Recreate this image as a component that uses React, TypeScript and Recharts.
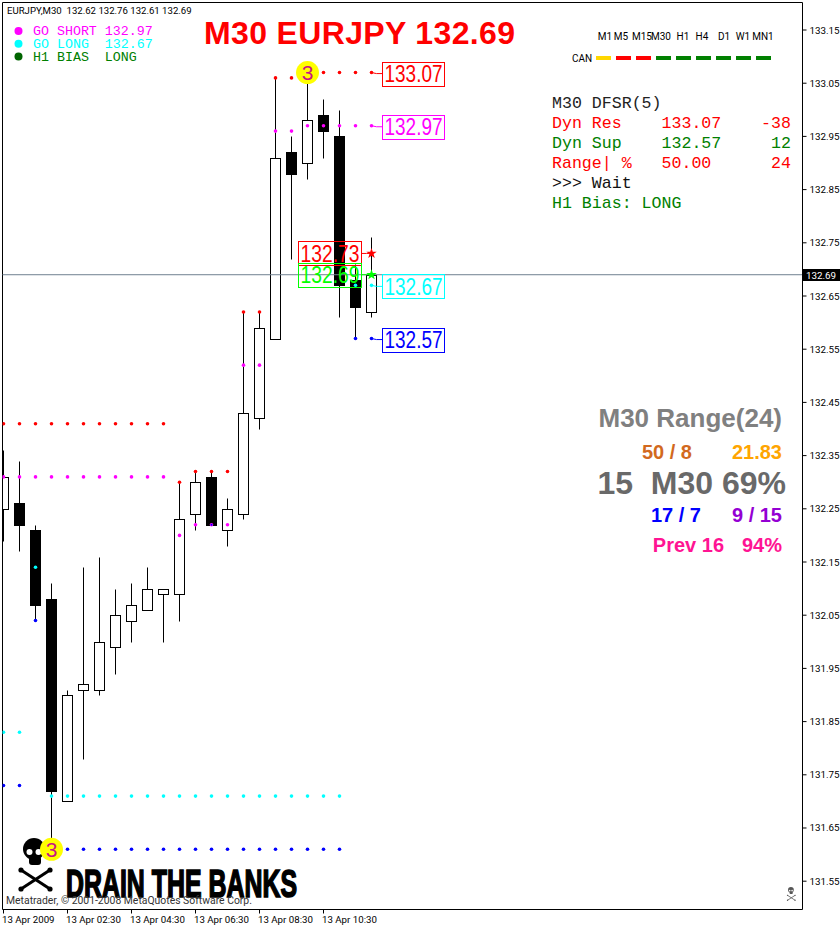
import {
  ComposedChart,
  Bar,
  Line,
  XAxis,
  YAxis,
  ReferenceLine,
  ReferenceDot,
} from 'recharts';

const OPENS = [132.25, 132.26, 132.21, 132.08, 131.70, 131.91, 131.91, 131.99, 132.04, 132.06, 132.09, 132.09, 132.24, 132.31, 132.21, 132.24, 132.42, 132.57, 132.92, 132.90, 132.99, 132.95, 132.68, 132.62];
const HIGHS = [132.36, 132.34, 132.22, 132.11, 131.91, 132.14, 132.16, 132.10, 132.11, 132.14, 132.10, 132.30, 132.32, 132.32, 132.27, 132.62, 132.62, 133.06, 132.95, 133.07, 133.02, 133.00, 132.71, 132.76];
const LOWS = [132.19, 132.17, 132.04, 131.61, 131.70, 131.78, 131.90, 131.94, 132.00, 132.06, 132.00, 132.04, 132.21, 132.22, 132.18, 132.23, 132.40, 132.57, 132.72, 132.87, 132.91, 132.61, 132.57, 132.61];
const CLOSES = [132.31, 132.22, 132.07, 131.72, 131.90, 131.92, 132.00, 132.05, 132.07, 132.10, 132.10, 132.23, 132.30, 132.22, 132.25, 132.43, 132.59, 132.91, 132.88, 132.98, 132.96, 132.67, 132.63, 132.69];

// DFSR dots
const DYN_RES = [132.41, 132.41, 132.41, 132.41, 132.41, 132.41, 132.41, 132.41, 132.41, 132.41, 132.41, 132.30, 132.32, 132.32, 132.32, 132.62, 132.62, 133.06, 133.06, 133.07, 133.07, 133.07, 133.07, 133.07];
const GO_SHORT = [132.31, 132.31, 132.31, 132.31, 132.31, 132.31, 132.31, 132.31, 132.31, 132.31, 132.31, 132.20, 132.22, 132.22, 132.22, 132.52, 132.52, 132.96, 132.96, 132.97, 132.97, 132.97, 132.97, 132.97];
const GO_LONG = [131.83, 131.83, 132.14, 131.71, 131.71, 131.71, 131.71, 131.71, 131.71, 131.71, 131.71, 131.71, 131.71, 131.71, 131.71, 131.71, 131.71, 131.71, 131.71, 131.71, 131.71, 131.71, 132.67, 132.67];
const DYN_SUP = [131.73, 131.73, 132.04, 131.61, 131.61, 131.61, 131.61, 131.61, 131.61, 131.61, 131.61, 131.61, 131.61, 131.61, 131.61, 131.61, 131.61, 131.61, 131.61, 131.61, 131.61, 131.61, 132.57, 132.57];

const Y_TICKS = [133.15, 133.05, 132.95, 132.85, 132.75, 132.65, 132.55, 132.45, 132.35, 132.25, 132.15, 132.05, 131.95, 131.85, 131.75, 131.65, 131.55];
const X_TICKS = [0, 4, 8, 12, 16, 20];
const X_LABELS = ['13 Apr 2009', '13 Apr 02:30', '13 Apr 04:30', '13 Apr 06:30', '13 Apr 08:30', '13 Apr 10:30'];

const LAST_PRICE = 132.69;
const LAST_BAR = 23;
const Y_TOP = 133.2017;
const Y_BOTTOM = 131.4968;
const X_MIN = -0.0625;
const X_MAX = 49.9375;

const TF_LABELS = ['M1', 'M5', 'M15', 'M30', 'H1', 'H4', 'D1', 'W1', 'MN1'];
const TF_COLORS = ['#ffd700', '#ff0000', '#ff0000', '#008000', '#008000', '#008000', '#008000', '#008000', '#008000'];

const DFSR_ROWS = [
  { text: 'M30 DFSR(5)', color: '#222222' },
  { text: 'Dyn Res    133.07    -38', color: '#ff0000' },
  { text: 'Dyn Sup    132.57     12', color: '#008000' },
  { text: 'Range| %   50.00      24', color: '#ff0000' },
  { text: '>>> Wait', color: '#111111' },
  { text: 'H1 Bias: LONG', color: '#008000' },
];

const LEGEND_ROWS = [
  { text: 'GO SHORT 132.97', color: '#ff00ff', dot: '#ff00ff' },
  { text: 'GO LONG  132.67', color: '#00ffff', dot: '#00ffff' },
  { text: 'H1 BIAS  LONG', color: '#008000', dot: '#006400' },
];

const chartData = OPENS.map((open, i) => ({
  bar: i,
  open,
  high: HIGHS[i],
  low: LOWS[i],
  close: CLOSES[i],
  dynRes: DYN_RES[i],
  goShort: GO_SHORT[i],
  goLong: GO_LONG[i],
  dynSup: DYN_SUP[i],
}));

const SANS = '"Liberation Sans", Arial, sans-serif';
const MONO = '"Liberation Mono", monospace';
const TICK_FONT = 'Roboto, sans-serif';

function Candle(props: any) {
  const { x, y, width, height, payload } = props;
  const { open, high, low, close } = payload;
  const cx = Math.floor(x + width / 2) + 0.5;
  const perUnit = height / (high - low || 1);
  const yOf = (p: number) => Math.round(y + (high - p) * perUnit) + 0.5;
  const bull = close >= open;
  const top = yOf(Math.max(open, close));
  const bottom = yOf(Math.min(open, close));
  return (
    <g>
      <line x1={cx} x2={cx} y1={yOf(high)} y2={yOf(low)} stroke="#000" />
      <rect
        x={cx - 5}
        y={top}
        width={10}
        height={bottom - top}
        fill={bull ? '#fff' : '#000'}
        stroke="#000"
      />
    </g>
  );
}

const dotOf = (color: string) => (props: any) => {
  const { cx, cy, index } = props;
  return <circle key={index} cx={cx} cy={cy} r={1.8} fill={color} />;
};

// box with the price in it and a short leader back to the dot
const priceTag = (label: string, color: string, boxLeft: number, boxRight: number, dy: number) => (props: any) => {
  const { cx, cy } = props;
  const mid = cy + dy;
  return (
    <g>
      <polyline
        points={`${cx},${cy} ${cx + Math.sign(boxLeft) * 5},${mid} ${cx + (boxLeft > 0 ? boxLeft : boxRight)},${mid}`}
        fill="none"
        stroke={color}
      />
      <rect x={cx + boxLeft} y={Math.round(mid) - 11.5} width={boxRight - boxLeft} height={24} fill="none" stroke={color} />
      <text
        x={(2 * cx + boxLeft + boxRight) / 2}
        y={mid + 8.5}
        textAnchor="middle"
        fontFamily={SANS}
        fontSize={24}
        textLength={boxRight - boxLeft - 4}
        lengthAdjust="spacingAndGlyphs"
        fill={color}
      >
        {label}
      </text>
    </g>
  );
};

const starPath = (cx: number, cy: number, r: number) => {
  const pts: string[] = [];
  for (let k = 0; k < 10; k++) {
    const a = -Math.PI / 2 + (k * Math.PI) / 5;
    const rad = k % 2 ? r * 0.4 : r;
    pts.push(`${cx + rad * Math.cos(a)},${cy + rad * Math.sin(a)}`);
  }
  return pts.join(' ');
};

const starMark = (color: string) => (props: any) => <polygon points={starPath(props.cx, props.cy, 5.5)} fill={color} />;

const countBadge = (props: any) => (
  <g>
    <circle cx={props.cx} cy={props.cy} r={11.5} fill="#ffff00" />
    <text
      x={props.cx}
      y={props.cy + 7.5}
      textAnchor="middle"
      fontFamily={SANS}
      fontSize={21}
      fill="#c71585"
    >
      3
    </text>
  </g>
);

function YTick(props: any) {
  const { x, y, payload } = props;
  return (
    <text x={x + 1} y={y + 3.5} fontFamily={TICK_FONT} fontSize={9.8} fill="#000">
      {payload.value.toFixed(2)}
    </text>
  );
}

function XTick(props: any) {
  const { x, y, payload } = props;
  return (
    <text x={x - 1.5} y={y + 7} fontFamily={TICK_FONT} fontSize={9.7} fill="#000">
      {X_LABELS[X_TICKS.indexOf(payload.value)]}
    </text>
  );
}

function Skull({ x, y, scale, color }: { x: number; y: number; scale: number; color: string }) {
  return (
    <g transform={`translate(${x},${y}) scale(${scale})`}>
      <ellipse cx={17} cy={11} rx={11} ry={11} fill={color} />
      <rect x={12} y={18} width={12} height={9} rx={3} fill={color} />
      <circle cx={12.5} cy={14} r={3} fill="#fff" />
      <circle cx={21.5} cy={14} r={3} fill="#fff" />
      <line x1={4} y1={32} x2={33} y2={51} stroke={color} strokeWidth={3} />
      <line x1={33} y1={32} x2={4} y2={51} stroke={color} strokeWidth={3} />
      <circle cx={4} cy={32} r={2.6} fill={color} />
      <circle cx={33} cy={32} r={2.6} fill={color} />
      <circle cx={4} cy={51} r={2.6} fill={color} />
      <circle cx={33} cy={51} r={2.6} fill={color} />
    </g>
  );
}

// sits under the chart so the candles and the badge stay on top of it
function Watermark() {
  return (
    <svg width={840} height={926} style={{ position: 'absolute', left: 0, top: 0 }}>
      <Skull x={17} y={838} scale={1} color="#000" />
      <text
        x={66}
        y={897}
        fontFamily='"Liberation Sans Narrow", "Liberation Sans", sans-serif'
        fontWeight="bold"
        fontSize={38}
        textLength={231}
        lengthAdjust="spacingAndGlyphs"
        stroke="#000"
        strokeWidth={1.6}
        fill="#000"
      >
        DRAIN THE BANKS
      </text>
      <Skull x={786.5} y={887} scale={0.26} color="#555" />
    </svg>
  );
}

function Overlay() {
  return (
    <svg width={840} height={926} style={{ position: 'absolute', left: 0, top: 0, pointerEvents: 'none' }}>
      {/* chart caption */}
      <text x={7} y={14} fontFamily={TICK_FONT} fontSize={9.6} fill="#000" style={{ whiteSpace: 'pre' }}>
        EURJPY,M30  132.62 132.76 132.61 132.69
      </text>
      <text x={204} y={44} fontFamily={SANS} fontWeight="bold" fontSize={32} textLength={311} fill="#ff0000">
        M30 EURJPY 132.69
      </text>

      {LEGEND_ROWS.map((row, i) => (
        <g key={row.text}>
          <circle cx={18.5} cy={31 + i * 12.7} r={4} fill={row.dot} />
          <text x={33} y={35 + i * 13} fontFamily={MONO} fontSize={13.3} fill={row.color} style={{ whiteSpace: 'pre' }}>
            {row.text}
          </text>
        </g>
      ))}

      {/* timeframe strip */}
      {TF_LABELS.map((tf, i) => (
        <text key={tf} x={[605, 621, 642, 661, 683, 702, 724, 743, 763][i]} y={40} textAnchor="middle" fontFamily={TICK_FONT} fontSize={10} fill="#000">
          {tf}
        </text>
      ))}
      <text x={572} y={62} fontFamily={TICK_FONT} fontSize={10} fill="#000">CAN</text>
      {TF_COLORS.map((c, i) => (
        <rect key={i} x={596 + i * 20} y={56} width={15} height={4} fill={c} />
      ))}

      {DFSR_ROWS.map((row, i) => (
        <text key={row.text} x={552} y={107.5 + i * 20} fontFamily={MONO} fontSize={16.6} fill={row.color} style={{ whiteSpace: 'pre' }}>
          {row.text}
        </text>
      ))}

      {/* range block */}
      <g fontFamily={SANS} fontWeight="bold">
        <text x={782} y={427} textAnchor="end" fontSize={26} fill="#808080">M30 Range(24)</text>
        <text x={692} y={459} textAnchor="end" fontSize={20} fill="#d2691e">50 / 8</text>
        <text x={782} y={459} textAnchor="end" fontSize={20} fill="#ffa500">21.83</text>
        <text x={786} y={494} textAnchor="end" fontSize={32} fill="#696969" style={{ whiteSpace: 'pre' }}>15  M30 69%</text>
        <text x={701} y={522} textAnchor="end" fontSize={20} fill="#0000ff">17 / 7</text>
        <text x={782} y={522} textAnchor="end" fontSize={20} fill="#9400d3">9 / 15</text>
        <text x={724} y={552} textAnchor="end" fontSize={20} fill="#ff1493">Prev 16</text>
        <text x={782} y={552} textAnchor="end" fontSize={20} fill="#ff1493">94%</text>
      </g>

      <text x={6} y={904} fontFamily={TICK_FONT} fontSize={10.4} fill="#333">
        Metatrader, © 2001-2008 MetaQuotes Software Corp.
      </text>

      {/* last price flag on the axis */}
      <rect x={803} y={269} width={37} height={12} fill="#000" />
      <text x={806} y={278.5} fontFamily={TICK_FONT} fontSize={9.8} fill="#fff">132.69</text>
    </svg>
  );
}

export default function App() {
  return (
    <div style={{ position: 'absolute', left: 0, top: 0, width: 840, height: 926, background: '#fff' }}>
      <Watermark />
      <ComposedChart
        width={840}
        height={926}
        data={chartData}
        margin={{ top: 2.5, right: 0, bottom: 0, left: 2.5 }}
        style={{ position: 'absolute', left: 0, top: 0 }}
      >
        <XAxis
          dataKey="bar"
          type="number"
          domain={[X_MIN, X_MAX]}
          ticks={X_TICKS}
          tick={<XTick />}
          tickSize={4}
          stroke="#000"
          height={16.5}
          interval={0}
          allowDataOverflow
        />
        <YAxis
          orientation="right"
          type="number"
          domain={[Y_BOTTOM, Y_TOP]}
          ticks={Y_TICKS}
          tick={<YTick />}
          tickSize={4}
          stroke="#000"
          width={37.5}
          interval={0}
          allowDataOverflow
        />
        <ReferenceLine y={Y_TOP} stroke="#000" />
        <ReferenceLine x={X_MIN} stroke="#000" />
        <ReferenceLine y={LAST_PRICE} stroke="#708090" />

        <Bar dataKey={(d: any) => [d.low, d.high]} barSize={11} shape={<Candle />} isAnimationActive={false} />

        <Line dataKey="dynRes" stroke="none" dot={dotOf('#ff0000')} activeDot={false} isAnimationActive={false} />
        <Line dataKey="goShort" stroke="none" dot={dotOf('#ff00ff')} activeDot={false} isAnimationActive={false} />
        <Line dataKey="goLong" stroke="none" dot={dotOf('#00ffff')} activeDot={false} isAnimationActive={false} />
        <Line dataKey="dynSup" stroke="none" dot={dotOf('#0000ff')} activeDot={false} isAnimationActive={false} />
        <ReferenceDot x={13} y={132.22} r={1} fill="#0000ff" stroke="none" />

        <ReferenceDot x={LAST_BAR} y={133.07} shape={priceTag('133.07', '#ff0000', 11, 73, 1)} />
        <ReferenceDot x={LAST_BAR} y={132.97} shape={priceTag('132.97', '#ff00ff', 11, 73, 1)} />
        <ReferenceDot x={LAST_BAR} y={132.67} shape={priceTag('132.67', '#00ffff', 11, 73, 1)} />
        <ReferenceDot x={LAST_BAR} y={132.57} shape={priceTag('132.57', '#0000ff', 11, 73, 1)} />
        <ReferenceDot x={LAST_BAR} y={132.73} shape={priceTag('132.73', '#ff0000', -73, -10, 0)} />
        <ReferenceDot x={LAST_BAR} y={132.69} shape={priceTag('132.69', '#00ff00', -73, -10, 0)} />
        <ReferenceDot x={LAST_BAR} y={132.73} shape={starMark('#ff0000')} />
        <ReferenceDot x={LAST_BAR} y={132.69} shape={starMark('#00ff00')} />
        <ReferenceDot x={19} y={133.07} shape={countBadge} />
        <ReferenceDot x={3} y={131.61} shape={countBadge} />
      </ComposedChart>
      <Overlay />
    </div>
  );
}
